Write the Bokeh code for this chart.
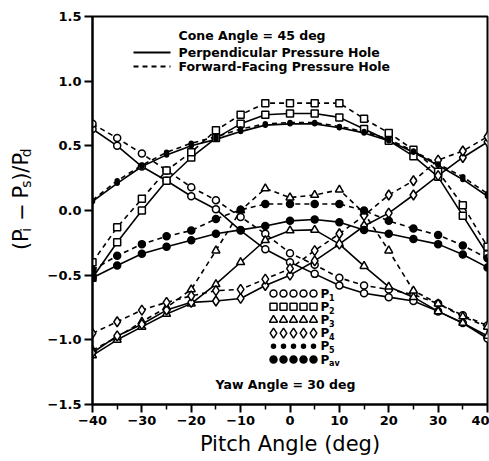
import math
from bokeh.plotting import figure
from bokeh.layouts import row
from bokeh.models import Label, FixedTicker, Range1d
from bokeh.core.properties import value
from bokeh.embed import file_html
from bokeh.resources import INLINE

# ---- data: pressure coefficients vs pitch angle (yaw 30 deg, cone 45 deg) ----
pitch = [-40, -35, -30, -25, -20, -15, -10, -5, 0, 5, 10, 15, 20, 25, 30, 35, 40]

p1_perp = [0.63, 0.50, 0.34, 0.23, 0.11, 0.01, -0.155, -0.30, -0.40, -0.49, -0.58, -0.64, -0.67, -0.70, -0.78, -0.87, -0.99]
p1_fwd = [0.67, 0.56, 0.44, 0.31, 0.18, 0.08, -0.05, -0.18, -0.33, -0.42, -0.52, -0.58, -0.61, -0.65, -0.72, -0.81, -0.89]
p2_perp = [-0.52, -0.245, 0.0, 0.23, 0.41, 0.56, 0.67, 0.74, 0.75, 0.75, 0.72, 0.63, 0.54, 0.42, 0.26, -0.04, -0.34]
p2_fwd = [-0.40, -0.13, 0.09, 0.31, 0.45, 0.62, 0.74, 0.83, 0.83, 0.83, 0.83, 0.71, 0.60, 0.47, 0.30, 0.04, -0.28]
p3_perp = [-1.12, -1.00, -0.90, -0.80, -0.72, -0.57, -0.40, -0.23, -0.155, -0.15, -0.26, -0.43, -0.59, -0.67, -0.78, -0.87, -0.97]
p3_fwd = [-1.08, -0.98, -0.86, -0.75, -0.61, -0.31, 0.0, 0.17, 0.10, 0.12, 0.16, -0.02, -0.31, -0.62, -0.72, -0.82, -0.90]
p4_perp = [-1.10, -0.97, -0.88, -0.77, -0.71, -0.70, -0.68, -0.58, -0.50, -0.39, -0.26, -0.12, -0.02, 0.12, 0.27, 0.41, 0.53]
p4_fwd = [-0.95, -0.86, -0.77, -0.71, -0.66, -0.62, -0.61, -0.53, -0.45, -0.31, -0.18, -0.04, 0.12, 0.23, 0.39, 0.46, 0.57]
p5_perp = [0.07, 0.21, 0.34, 0.43, 0.50, 0.55, 0.61, 0.66, 0.67, 0.67, 0.64, 0.60, 0.54, 0.45, 0.35, 0.24, 0.11]
p5_fwd = [0.08, 0.23, 0.35, 0.45, 0.52, 0.57, 0.63, 0.67, 0.68, 0.68, 0.65, 0.61, 0.55, 0.46, 0.36, 0.26, 0.13]
pav_perp = [-0.52, -0.425, -0.335, -0.28, -0.23, -0.18, -0.15, -0.12, -0.08, -0.07, -0.09, -0.15, -0.18, -0.22, -0.26, -0.34, -0.44]
pav_fwd = [-0.46, -0.35, -0.26, -0.20, -0.155, -0.065, 0.005, 0.05, 0.05, 0.05, 0.05, 0.0, -0.08, -0.14, -0.19, -0.27, -0.37]

x_ticks = [-40, -30, -20, -10, 0, 10, 20, 30, 40]
x_tick_labels = ["\u221240", "\u221230", "\u221220", "\u221210", "0", "10", "20", "30", "40"]
y_ticks = [-1.5, -1.0, -0.5, 0.0, 0.5, 1.0, 1.5]
y_tick_labels = ["\u22121.5", "\u22121.0", "\u22120.5", "0.0", "0.5", "1.0", "1.5"]

legend_names = ["1", "2", "3", "4", "5", "av"]

# ---- layout constants (canvas pixels) ----
W, H = 489, 461
TITLE_W = 40                      # strip holding the rotated y title
FL, FR, FT, FB = 92, 487, 16, 404  # plot frame edges on the page
XMIN, XMAX, YMIN, YMAX = -40, 40, -1.5, 1.5
FONT = "DejaVu Sans"


def dx(px):
    return XMIN + (px - FL) * (XMAX - XMIN) / (FR - FL)


def dy(py):
    return YMAX - (py - FT) * (YMAX - YMIN) / (FB - FT)


p = figure(width=W - TITLE_W, height=H, output_backend="svg", toolbar_location=None,
           x_range=Range1d(XMIN, XMAX), y_range=Range1d(YMIN, YMAX),
           min_border_left=FL - TITLE_W, min_border_right=W - FR,
           min_border_top=FT, min_border_bottom=H - FB)
p.background_fill_color = "white"
p.border_fill_color = "white"
p.outline_line_color = "black"
p.outline_line_width = 2
p.xgrid.visible = False
p.ygrid.visible = False

# axes
p.xaxis.ticker = FixedTicker(ticks=x_ticks, minor_ticks=[t + 5 for t in x_ticks[:-1]])
p.yaxis.ticker = FixedTicker(ticks=y_ticks, minor_ticks=[])
p.xaxis.major_label_overrides = dict(zip(x_ticks, x_tick_labels))
p.yaxis.major_label_overrides = dict(zip(y_ticks, y_tick_labels))
for ax in (p.xaxis, p.yaxis):
    ax.axis_line_width = 2
    ax.axis_line_color = "black"
    ax.major_tick_line_width = 2
    ax.major_tick_in = 0
    ax.major_tick_out = 8
    ax.minor_tick_in = 0
    ax.minor_tick_out = 5
    ax.minor_tick_line_width = 1.5
    ax.major_label_text_font = FONT
    ax.major_label_text_font_style = "bold"
    ax.major_label_text_font_size = "13px"
    ax.major_label_text_color = "black"
    ax.major_label_standoff = 3
p.xaxis.axis_label = "Pitch Angle (deg)"
p.xaxis.axis_label_text_font = FONT
p.xaxis.axis_label_text_font_style = "normal"
p.xaxis.axis_label_text_font_size = "21px"
p.xaxis.axis_label_standoff = 4
p.xaxis.axis_label_text_color = "black"

# ---- data curves ----
series = [
    (p1_perp, p1_fwd, "circle", 7, "white"),
    (p2_perp, p2_fwd, "square", 7, "white"),
    (p3_perp, p3_fwd, "triangle", 8, "white"),
    (p4_perp, p4_fwd, "diamond", 10, "white"),
    (p5_perp, p5_fwd, "circle", 4, "black"),
    (pav_perp, pav_fwd, "circle", 7, "black"),
]
for perp, fwd, marker, size, fill in series:
    p.line(pitch, perp, line_color="black", line_width=1.6)
    p.line(pitch, fwd, line_color="black", line_width=1.6, line_dash="5 4")
for perp, fwd, marker, size, fill in series:
    for vals in (perp, fwd):
        p.scatter(pitch, vals, marker=marker, size=size, fill_color=fill,
                  line_color="black", line_width=1.5)

# ---- line-style key ----
key_x0, key_x1, key_text_x = 133, 170, 178
p.line([dx(key_x0), dx(key_x1)], [dy(52), dy(52)], line_color="black", line_width=1.8)
p.line([dx(key_x0), dx(key_x1)], [dy(66), dy(66)], line_color="black", line_width=1.8,
       line_dash="5 4")
for txt, py in [("Cone Angle = 45 deg", 35), ("Perpendicular Pressure Hole", 52),
                ("Forward-Facing Pressure Hole", 66)]:
    p.add_layout(Label(x=dx(key_text_x), y=dy(py), text=txt, text_font=FONT,
                       text_font_style="bold", text_font_size="12.5px",
                       text_baseline="middle", text_align="left", text_color="black"))

# ---- marker key ----
row0, row_step = 293, 13.2
mark_xs = [273, 283, 293, 303, 313]
for i, (perp, fwd, marker, size, fill) in enumerate(series):
    py = row0 + i * row_step
    p.scatter([dx(m) for m in mark_xs], [dy(py)] * len(mark_xs), marker=marker,
              size=size, fill_color=fill, line_color="black", line_width=1.5)
    p.add_layout(Label(x=dx(320), y=dy(py), text="P", text_font=FONT,
                       text_font_style="bold", text_font_size="12px",
                       text_baseline="middle", text_align="left", text_color="black"))
    p.add_layout(Label(x=dx(328.5), y=dy(py + 3.5), text=legend_names[i], text_font=FONT,
                       text_font_style="bold", text_font_size="8px",
                       text_baseline="middle", text_align="left", text_color="black"))

p.add_layout(Label(x=dx(285), y=dy(384), text="Yaw Angle = 30 deg", text_font=FONT,
                   text_font_style="bold", text_font_size="12.5px",
                   text_baseline="middle", text_align="center", text_color="black"))

# ---- rotated y-axis title with subscripts, in its own narrow strip ----
t = figure(width=TITLE_W, height=H, output_backend="svg", toolbar_location=None,
           x_range=Range1d(0, TITLE_W), y_range=Range1d(H, 0),
           x_axis_location=None, y_axis_location=None,
           min_border_left=0, min_border_right=0, min_border_top=0, min_border_bottom=0)
t.outline_line_color = None
t.xgrid.visible = False
t.ygrid.visible = False
t.background_fill_color = "white"
t.border_fill_color = "white"

big, small = 21, 14
# (text, font px, advance in em, extra gap after in px)
pieces = [("(P", big, 0.390 + 0.603, 1), ("i", small, 0.278, 9),
          ("\u2212", big, 0.838, 9), ("P", big, 0.603, 0),
          ("s", small, 0.521, 1), (")/P", big, 0.390 + 0.337 + 0.603, 0),
          ("d", small, 0.635, 0)]
total = sum(sz * w + g for _, sz, w, g in pieces)
label_cx, label_cy = 20, 218
cur = label_cy + total / 2
for txt, sz, w, g in pieces:
    off = 5 if sz == small else 0
    t.text(x=[label_cx + off], y=[cur], text=[txt], angle=math.pi / 2,
           text_font=value(FONT), text_font_size=value(f"{sz}px"),
           text_baseline="middle", text_align="left", text_color="black")
    cur -= sz * w + g

open("out.html", "w").write(file_html(row(t, p), INLINE))
